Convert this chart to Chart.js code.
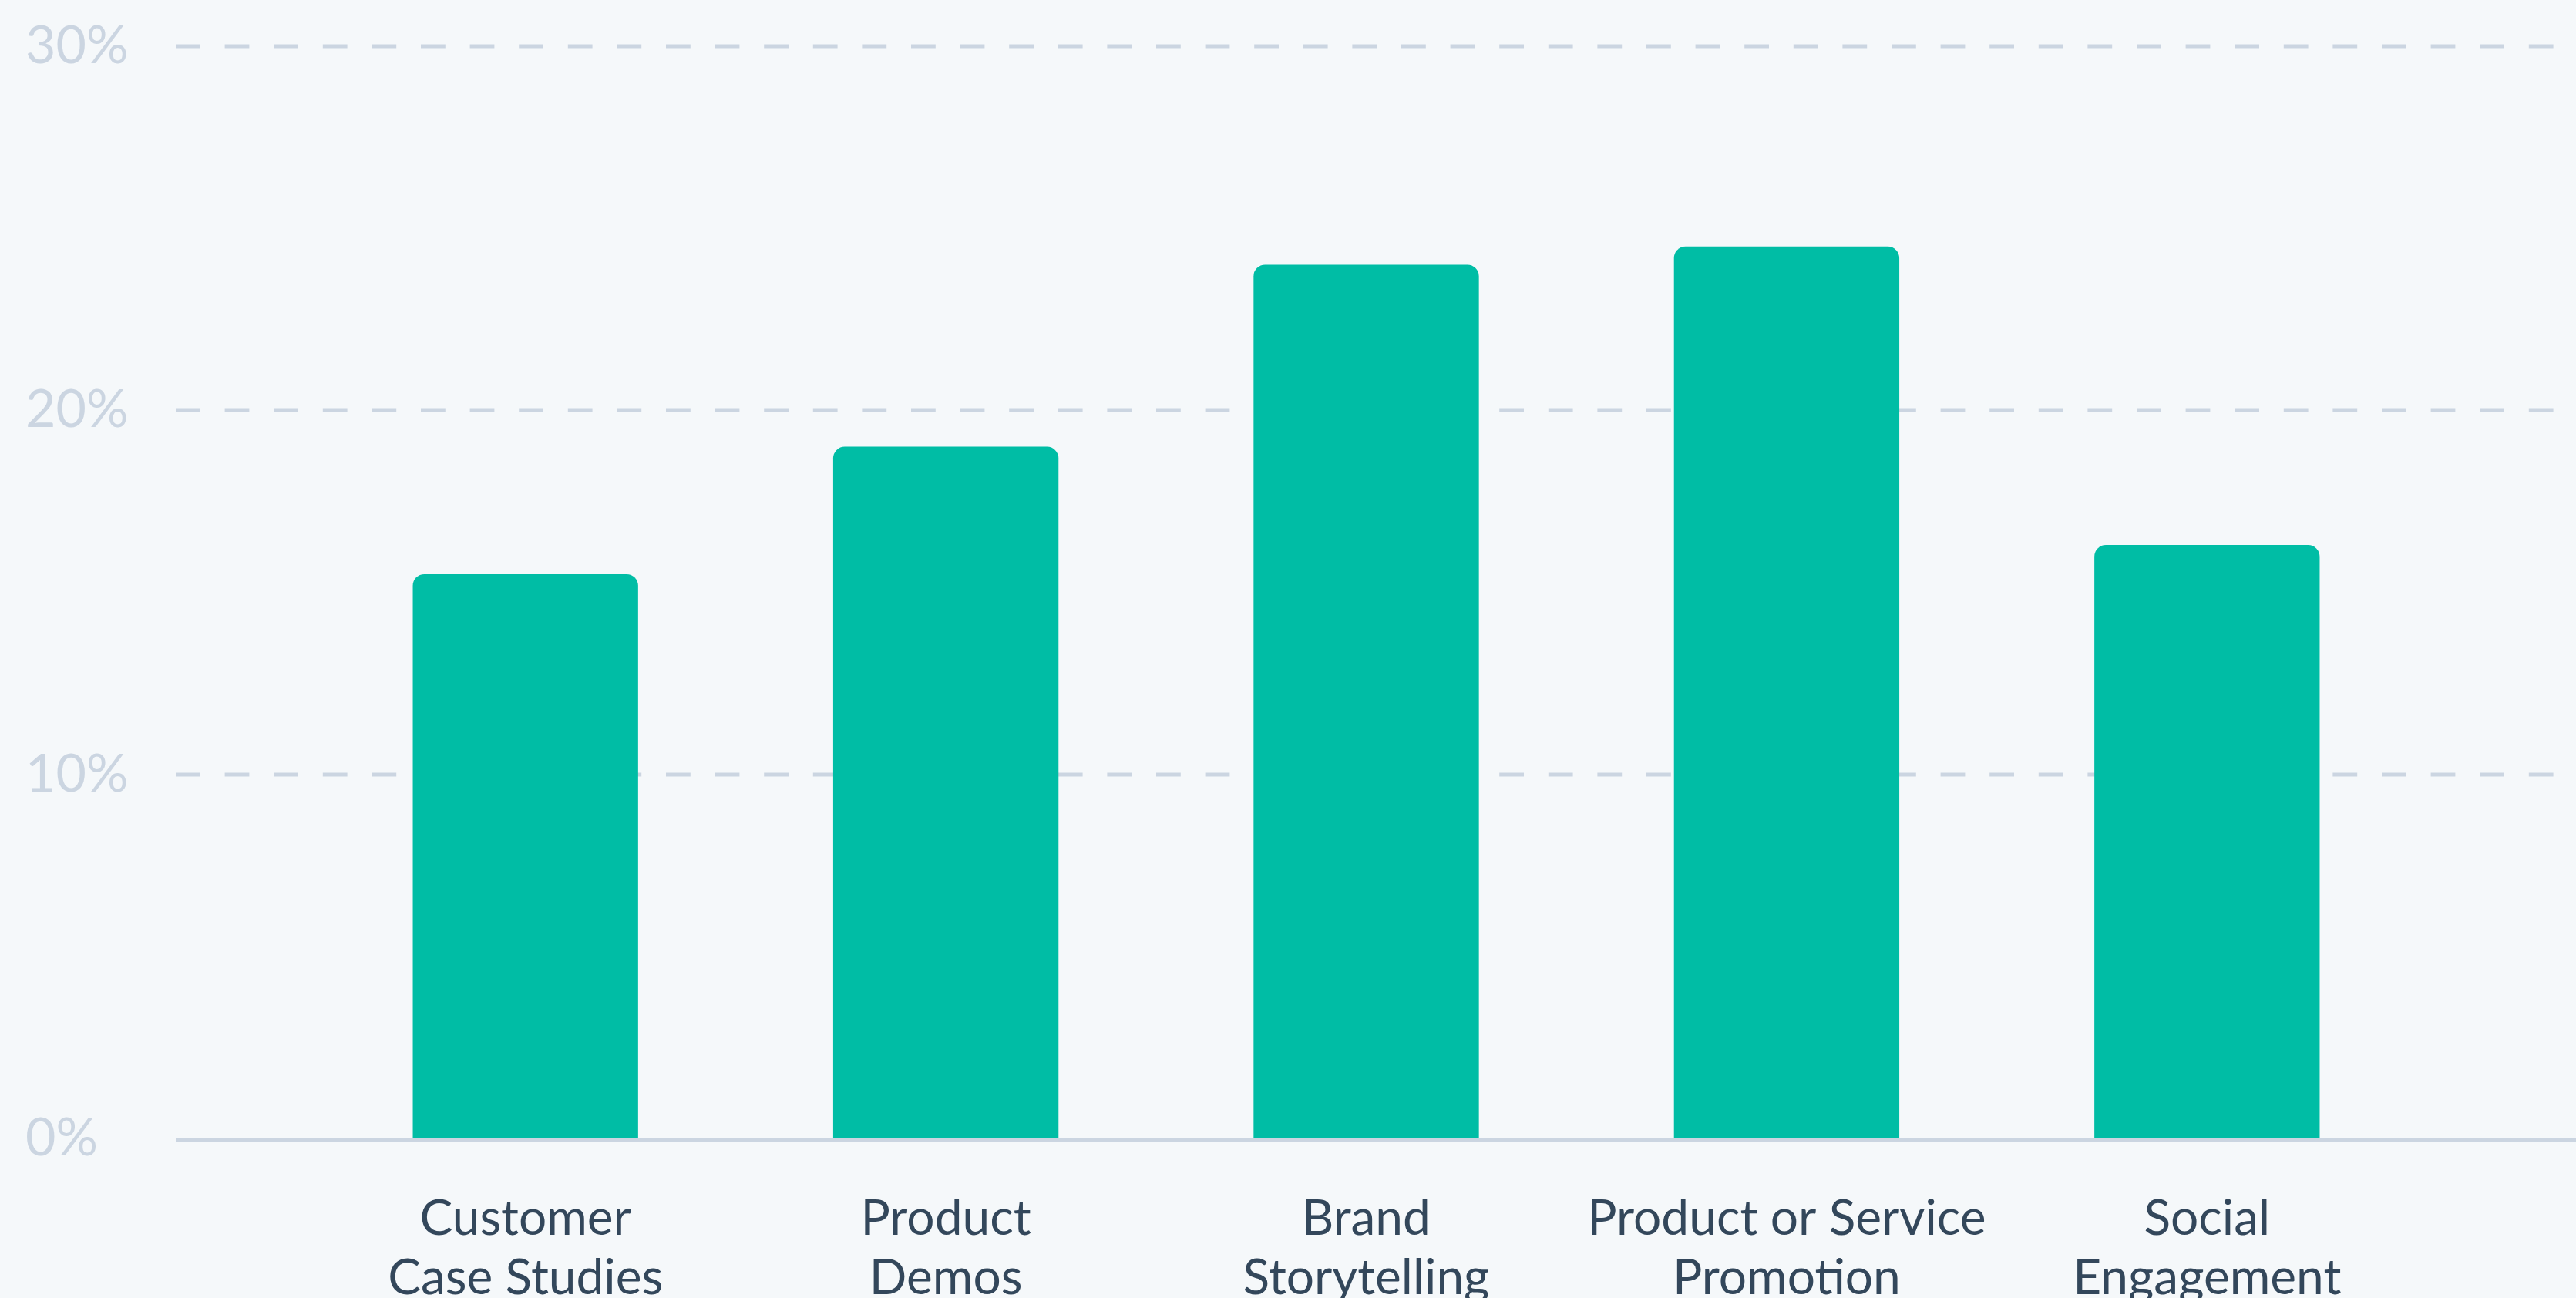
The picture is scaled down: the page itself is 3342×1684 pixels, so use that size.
<!DOCTYPE html>
<html>
<head>
<meta charset="utf-8">
<script src="https://cdn.jsdelivr.net/npm/chart.js@4.4.0/dist/chart.umd.min.js"></script>
<style>
  html, body { margin: 0; padding: 0; background: #f5f8fa; }
  canvas { display: block; }
</style>
</head>
<body>
<canvas id="barChart" width="3342" height="1684"></canvas>
<script>
// data
var categories = [
  ["Customer", "Case Studies"],
  ["Product", "Demos"],
  ["Brand", "Storytelling"],
  ["Product or Service", "Promotion"],
  ["Social", "Engagement"]
];
var shares = [15.5, 19, 24, 24.5, 16.3];
var yTicks = [0, 10, 20, 30];

var gridColor = '#cbd5e1';
var gridStart = 228;

// dashed grid lines run past the plot area, baseline is solid
var gridPlugin = {
  id: 'wideGrid',
  beforeDatasetsDraw: function (chart) {
    var ctx = chart.ctx, y = chart.scales.y;
    ctx.save();
    ctx.strokeStyle = gridColor;
    ctx.lineWidth = 5;
    ctx.setLineDash([31.8, 31.8]);
    yTicks.forEach(function (v) {
      if (v === 0) return;
      var py = Math.round(y.getPixelForValue(v));
      ctx.beginPath();
      ctx.moveTo(gridStart, py);
      ctx.lineTo(chart.width, py);
      ctx.stroke();
    });
    ctx.restore();
  },
  afterDatasetsDraw: function (chart) {
    var ctx = chart.ctx, y = chart.scales.y;
    var py = y.getPixelForValue(0) + 2.5;
    ctx.save();
    ctx.strokeStyle = gridColor;
    ctx.lineWidth = 5;
    ctx.beginPath();
    ctx.moveTo(gridStart, py);
    ctx.lineTo(chart.width, py);
    ctx.stroke();
    ctx.restore();
  }
};

var ctxB = document.getElementById("barChart").getContext('2d');
var myBarChart = new Chart(ctxB, {
  type: 'bar',
  data: {
    labels: categories,
    datasets: [{
      data: shares,
      backgroundColor: '#00bda5',
      borderWidth: 0,
      borderRadius: { topLeft: 15, topRight: 15, bottomLeft: 0, bottomRight: 0 },
      borderSkipped: 'start',
      barPercentage: 0.536,
      categoryPercentage: 1
    }]
  },
  options: {
    responsive: false,
    animation: false,
    devicePixelRatio: 1,
    layout: { padding: { left: 33, right: 206, top: 60, bottom: 0 } },
    plugins: { legend: { display: false }, tooltip: { enabled: false } },
    scales: {
      x: {
        grid: { display: false },
        border: { display: false },
        ticks: {
          color: '#33475b',
          font: { family: 'Lato', size: 64, lineHeight: 1.2 },
          padding: 58,
          maxRotation: 0,
          autoSkip: false
        },
        afterFit: function (scale) { scale.height = 207; }
      },
      y: {
        min: 0,
        max: 30,
        grid: { display: false },
        border: { display: false },
        ticks: {
          stepSize: 10,
          color: '#cbd5e1',
          crossAlign: 'far',
          font: { family: 'Lato', size: 68 },
          callback: function (v) { return v + '%'; }
        },
        afterFit: function (scale) { scale.width = 376; }
      }
    }
  },
  plugins: [gridPlugin]
});
</script>
</body>
</html>
